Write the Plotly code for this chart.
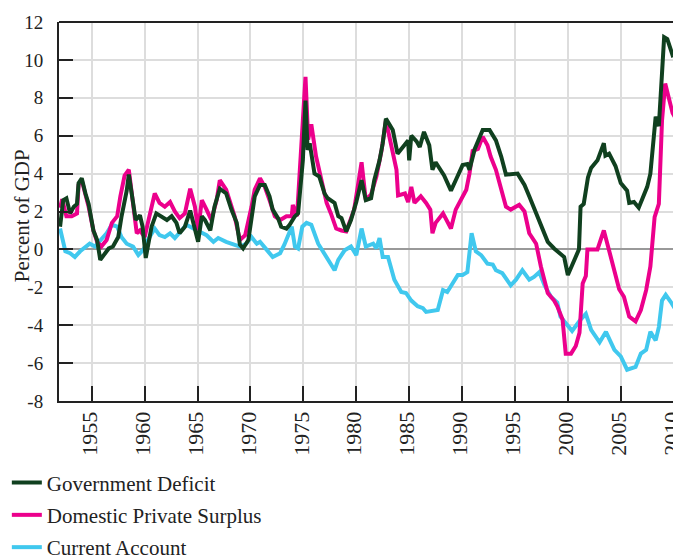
import plotly.graph_objects as go

# ---------------- data ----------------
gov_years = [1952.0, 1952.3, 1952.6, 1952.95, 1953.3, 1953.6, 1953.75, 1954.05, 1954.4, 1954.7,
             1955.15, 1955.5, 1955.8, 1956.1, 1956.6, 1957.0, 1957.5, 1957.8, 1958.3, 1958.5,
             1958.8, 1959.15, 1959.55, 1959.8, 1960.1, 1960.65, 1961.1, 1961.6, 1962.1, 1962.55,
             1963.0, 1963.3, 1963.8, 1964.3, 1964.75, 1965.05, 1965.4, 1965.7, 1966.2, 1966.6,
             1967.1, 1967.7, 1968.2, 1968.7, 1969.0, 1969.3, 1969.8, 1970.1, 1970.4, 1970.9,
             1971.35, 1971.8, 1972.1, 1972.6, 1972.9, 1973.4, 1973.7, 1974.2, 1974.5, 1974.95,
             1975.2, 1975.4, 1975.6, 1976.05, 1976.5, 1977.0, 1977.3, 1977.95, 1978.3, 1978.6,
             1979.05, 1979.5, 1980.0, 1980.5, 1980.9, 1981.4, 1981.7, 1982.2, 1982.5, 1982.8,
             1983.1, 1983.45, 1983.9, 1984.4, 1984.9, 1985.0, 1985.2, 1985.7, 1986.0, 1986.4,
             1986.9, 1987.2, 1987.5, 1988.3, 1988.95, 1989.4, 1990.05, 1990.5, 1990.7, 1991.2,
             1991.6, 1991.95, 1992.6, 1992.9, 1993.2, 1993.7, 1994.15, 1995.25, 1995.9, 1996.35,
             1997.0, 1997.6, 1998.1, 1998.7, 1999.0, 1999.65, 2000.0, 2000.6, 2001.05, 2001.2,
             2001.5, 2001.9, 2002.2, 2002.8, 2003.4, 2003.55, 2003.9, 2004.5, 2005.0, 2005.6,
             2005.8, 2006.25, 2006.7, 2007.5, 2007.8, 2008.3, 2008.6, 2008.9, 2009.1, 2009.4,
             2009.9, 2010.5]
gov_deficit = [1.2, 2.6, 2.7, 1.9, 2.25, 2.4, 3.5, 3.75, 2.95, 2.4,
               1.0, 0.5, -0.55, -0.35, 0.05, 0.15, 0.65, 1.7, 3.1, 3.95,
               2.95, 1.55, 1.8, 1.2, -0.45, 1.2, 1.9, 1.7, 1.55, 1.75,
               1.4, 0.85, 1.2, 2.05, 1.0, 0.4, 1.75, 1.55, 1.0, 2.25,
               3.2, 2.95, 2.1, 1.4, 0.25, 0.05, 0.5, 1.55, 2.8, 3.4,
               3.4, 2.8, 2.1, 1.65, 1.2, 1.1, 1.3, 1.75, 1.9, 4.7,
               7.85, 5.25, 5.6, 4.0, 3.85, 2.95, 2.7, 2.45, 1.75, 1.65,
               0.95, 1.55, 2.5, 3.65, 2.6, 2.7, 3.65, 4.7, 5.6, 6.9,
               6.6, 6.3, 5.05, 5.4, 5.75, 4.7, 6.0, 5.7, 5.4, 6.2,
               5.5, 4.2, 4.6, 3.9, 3.1, 3.65, 4.45, 4.5, 4.2, 5.3,
               5.8, 6.3, 6.3, 6.05, 5.75, 4.9, 3.95, 4.0, 3.4, 2.8,
               1.9, 1.0, 0.4, 0.05, -0.1, -0.4, -1.35, -0.55, 0.0, 2.25,
               2.4, 3.8, 4.3, 4.7, 5.6, 4.95, 5.05, 4.4, 3.5, 3.1,
               2.45, 2.5, 2.2, 3.3, 4.0, 7.0, 6.5, 9.3, 11.2, 11.1,
               10.25, 10.4]

priv_years = [1952.0, 1952.2, 1952.6, 1953.1, 1953.6, 1953.75, 1954.05, 1954.7, 1955.15, 1955.5,
              1955.9, 1956.4, 1956.9, 1957.4, 1957.7, 1958.1, 1958.5, 1958.9, 1959.25, 1959.55,
              1960.0, 1960.3, 1960.95, 1961.4, 1961.9, 1962.4, 1962.85, 1963.3, 1963.8, 1964.3,
              1964.75, 1965.05, 1965.4, 1965.85, 1966.3, 1966.8, 1967.1, 1967.7, 1968.5, 1969.0,
              1969.5, 1970.1, 1970.4, 1970.9, 1971.35, 1971.8, 1972.3, 1972.8, 1973.4, 1973.9,
              1974.0, 1974.4, 1974.95, 1975.2, 1975.45, 1975.75, 1976.2, 1976.7, 1977.2, 1977.6,
              1978.1, 1978.6, 1979.05, 1979.8, 1980.5, 1980.9, 1981.4, 1981.9, 1982.4, 1982.8,
              1983.3, 1983.8, 1983.95, 1984.6, 1984.9, 1985.2, 1985.5, 1986.1, 1986.6, 1987.0,
              1987.2, 1987.5, 1988.2, 1988.6, 1988.95, 1989.4, 1990.05, 1990.4, 1990.7, 1991.0,
              1991.5, 1991.95, 1992.4, 1992.7, 1993.2, 1993.7, 1994.15, 1994.6, 1995.4, 1995.9,
              1996.35, 1997.0, 1997.45, 1998.1, 1998.7, 1999.0, 1999.5, 1999.8, 2000.3, 2000.75,
              2001.1, 2001.4, 2001.7, 2001.85, 2002.8, 2003.4, 2003.75, 2004.2, 2004.85, 2005.3,
              2005.8, 2006.4, 2006.9, 2007.4, 2007.8, 2008.2, 2008.6, 2008.9, 2009.2, 2009.9,
              2010.5]
private_surplus = [2.2, 2.65, 1.75, 1.75, 1.9, 3.4, 3.65, 2.25, 1.0, 0.4,
                   0.15, 0.5, 1.4, 1.75, 2.8, 3.9, 4.2, 2.45, 0.85, 1.0,
                   0.65, 1.4, 2.95, 2.45, 2.25, 2.5, 2.0, 1.65, 1.9, 3.2,
                   2.25, 1.0, 2.6, 2.1, 1.55, 2.6, 3.65, 3.15, 1.75, 0.5,
                   0.75, 2.25, 3.15, 3.75, 3.3, 2.6, 1.75, 1.55, 1.75, 1.75,
                   2.35, 1.75, 6.5, 9.1, 5.8, 6.6, 4.9, 3.65, 2.45, 1.9,
                   1.1, 1.0, 0.95, 2.1, 4.6, 2.6, 2.9, 3.85, 5.25, 6.8,
                   5.6, 4.2, 2.85, 2.95, 2.5, 3.3, 2.45, 2.8, 2.45, 2.1,
                   0.85, 1.4, 1.9, 1.45, 1.1, 2.1, 2.8, 3.15, 4.0, 5.2,
                   5.3, 5.95, 5.5, 4.9, 4.2, 3.15, 2.25, 2.1, 2.35, 2.0,
                   0.85, 0.3, -0.9, -2.3, -2.7, -3.0, -3.7, -5.5, -5.5, -5.1,
                   -4.4, -1.8, -1.4, 0.0, 0.0, 1.0, 0.3, -0.7, -2.1, -2.5,
                   -3.55, -3.8, -3.2, -2.15, -0.9, 1.7, 2.4, 6.8, 8.75, 7.2,
                   6.6]

ca_years = [1952.0, 1952.5, 1952.95, 1953.4, 1953.9, 1954.4, 1954.8, 1955.3, 1955.9, 1956.4,
            1956.9, 1957.4, 1957.8, 1958.3, 1958.9, 1959.4, 1959.9, 1960.3, 1960.95, 1961.4,
            1961.9, 1962.4, 1962.85, 1963.3, 1963.95, 1964.6, 1965.2, 1965.85, 1966.5, 1966.95,
            1967.7, 1968.4, 1969.0, 1969.6, 1970.1, 1970.6, 1970.9, 1971.5, 1972.1, 1972.8,
            1973.2, 1973.9, 1974.2, 1974.5, 1974.9, 1975.3, 1975.75, 1976.4, 1977.2, 1977.95,
            1978.3, 1978.9, 1979.5, 1980.0, 1980.5, 1980.9, 1981.6, 1981.9, 1982.2, 1982.5,
            1983.0, 1983.6, 1984.25, 1984.7, 1985.2, 1985.8, 1986.3, 1986.6, 1987.7, 1988.2,
            1988.6, 1989.3, 1989.6, 1990.05, 1990.5, 1990.9, 1991.3, 1991.8, 1992.4, 1992.9,
            1993.2, 1993.8, 1994.6, 1995.1, 1995.7, 1996.35, 1996.8, 1997.3, 1997.8, 1998.4,
            1999.0, 1999.3, 2000.4, 2001.2, 2001.7, 2002.2, 2003.0, 2003.6, 2004.4, 2005.0,
            2005.6, 2006.4, 2006.9, 2007.4, 2007.8, 2008.3, 2008.6, 2008.9, 2009.25, 2009.7,
            2010.5]
current_account = [1.1, -0.1, -0.2, -0.4, -0.1, 0.15, 0.3, 0.15, 0.5, 0.85,
                   1.3, 1.2, 0.65, 0.3, 0.15, -0.3, 0.0, 0.5, 1.1, 0.75,
                   0.65, 0.85, 0.6, 0.9, 1.3, 1.1, 0.95, 0.75, 0.4, 0.6,
                   0.4, 0.25, 0.15, 0.3, 0.65, 0.3, 0.4, 0.0, -0.4, -0.2,
                   0.25, 1.2, 0.15, 0.05, 1.2, 1.4, 1.3, 0.3, -0.4, -1.1,
                   -0.55, -0.05, 0.15, -0.3, 1.1, 0.15, 0.3, 0.05, 0.6, -0.4,
                   -0.4, -1.6, -2.25, -2.3, -2.7, -3.0, -3.1, -3.3, -3.2, -2.15,
                   -2.25, -1.6, -1.35, -1.35, -1.2, 0.85, -0.1, -0.3, -0.75, -0.8,
                   -1.1, -1.25, -1.9, -1.6, -1.1, -1.6, -1.45, -1.2, -1.9, -2.5,
                   -2.8, -3.55, -4.3, -3.7, -3.4, -4.25, -4.9, -4.35, -5.3, -5.65,
                   -6.35, -6.2, -5.5, -5.3, -4.35, -4.8, -4.1, -2.7, -2.4, -2.75,
                   -3.45]

series_names = ["Government Deficit", "Domestic Private Surplus", "Current Account"]
y_title = "Percent of GDP"
x_tick_vals = [1955, 1960, 1965, 1970, 1975, 1980, 1985, 1990, 1995, 2000, 2005, 2010]
x_tick_text = ["1955", "1960", "1965", "1970", "1975", "1980", "1985", "1990", "1995", "2000", "2005", "2010"]
y_tick_vals = [-8, -6, -4, -2, 0, 2, 4, 6, 8, 10, 12]
y_tick_text = ["-8", "-6", "-4", "-2", "0", "2", "4", "6", "8", "10", "12"]

# ---------------- style ----------------
GREEN = "#10401f"
PINK = "#ec008c"
CYAN = "#40c8ee"
FONT = "Liberation Serif"
TXT = "#222222"

fig = go.Figure()
# drawn bottom to top: cyan, pink, green; legend ranks put green first
fig.add_trace(go.Scatter(x=ca_years, y=current_account, name=series_names[2], mode="lines",
                         legendrank=3, legendgroup="c", line=dict(color=CYAN, width=4)))
fig.add_trace(go.Scatter(x=priv_years, y=private_surplus, name=series_names[1], mode="lines",
                         legendrank=2, legendgroup="b", line=dict(color=PINK, width=4)))
fig.add_trace(go.Scatter(x=gov_years, y=gov_deficit, name=series_names[0], mode="lines",
                         legendrank=1, legendgroup="a", line=dict(color=GREEN, width=4)))

# page body has an 8px margin, so the figure is 8px smaller than the window
fig.update_layout(
    width=673, height=548,
    margin=dict(l=51, r=1, t=14, b=155, autoexpand=False),
    paper_bgcolor="white", plot_bgcolor="white",
    font=dict(family=FONT, size=19, color=TXT),
    showlegend=True,
    legend=dict(orientation="v", traceorder="grouped", tracegroupgap=2,
                x=-0.084, y=-0.162, xanchor="left", yanchor="top",
                font=dict(family=FONT, size=21, color=TXT),
                bgcolor="rgba(0,0,0,0)", itemwidth=30),
    xaxis=dict(range=[1951.9, 2010.6], tickvals=x_tick_vals, ticktext=x_tick_text,
               tickangle=-90, ticks="inside", ticklen=15, tickwidth=2, tickcolor=TXT,
               showgrid=True, gridcolor="#dddddd", gridwidth=2,
               showline=True, linecolor=TXT, linewidth=2, zeroline=False,
               automargin=False, ticklabeloverflow="allow", ticklabelshift=-2,
               tickfont=dict(family=FONT, size=22, color=TXT)),
    yaxis=dict(range=[-8, 12], tickvals=y_tick_vals, ticktext=y_tick_text,
               ticks="inside", ticklen=14, tickwidth=2, tickcolor=TXT,
               showgrid=True, gridcolor="#dddddd", gridwidth=2,
               zeroline=True, zerolinecolor="#999999", zerolinewidth=2,
               showline=True, linecolor=TXT, linewidth=2,
               automargin=False, ticklabelstandoff=10,
               tickfont=dict(family=FONT, size=19, color=TXT)),
    annotations=[dict(text=y_title, textangle=-90, xref="paper", yref="paper",
                      x=-0.0596, y=0.49, xanchor="center", yanchor="middle", showarrow=False,
                      font=dict(family=FONT, size=21, color=TXT))],
    shapes=[dict(type="line", xref="paper", yref="paper", x0=0, x1=1, y0=1, y1=1,
                 line=dict(color=TXT, width=2))],
)

fig.write_html("out.html")
